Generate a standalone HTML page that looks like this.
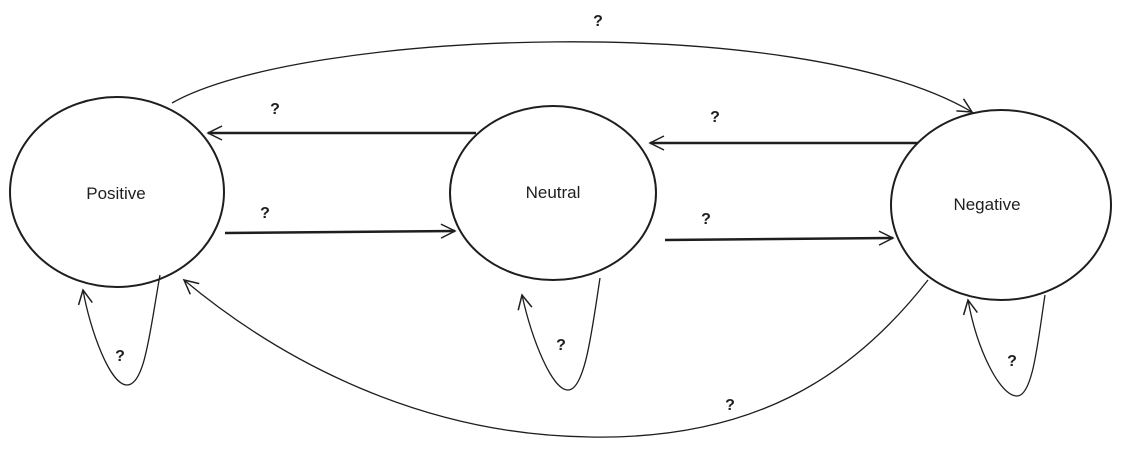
<!DOCTYPE html>
<html><head><meta charset="utf-8"><style>
html,body{margin:0;padding:0;background:#fff;}
svg{display:block;}
text{font-family:"Liberation Sans",sans-serif;fill:#1e1e1e;}
</style></head><body>
<svg width="1122" height="449" viewBox="0 0 1122 449">
<defs>
<marker id="ah" markerWidth="20" markerHeight="20" refX="16" refY="8" orient="auto" markerUnits="userSpaceOnUse">
<path d="M2,1 L16,8 L2,15" fill="none" stroke="#1e1e1e" stroke-width="1.5"/>
</marker>
</defs>
<g fill="none" stroke="#1e1e1e">
<ellipse cx="117" cy="192" rx="107" ry="95" stroke-width="2"/>
<ellipse cx="553" cy="193" rx="103" ry="87" stroke-width="2"/>
<ellipse cx="1001" cy="205" rx="110" ry="95" stroke-width="2"/>
<path d="M476,133 L208,133" stroke-width="2.5" marker-end="url(#ah)"/>
<path d="M225,233 L455,231" stroke-width="2.5" marker-end="url(#ah)"/>
<path d="M918,143 L650,143" stroke-width="2.5" marker-end="url(#ah)"/>
<path d="M665,240 L893,238" stroke-width="2.5" marker-end="url(#ah)"/>
<path d="M172,103 C300,30 800,10 972,112" stroke-width="1.3" marker-end="url(#ah)"/>
<path d="M928,280 C850,380 750,440 590,437 C420,435 280,360 184,280" stroke-width="1.3" marker-end="url(#ah)"/>
<path d="M160,275 C150,330 145,385 127,385 C110,385 90,330 83,290" stroke-width="1.3" marker-end="url(#ah)"/>
<path d="M600,278 C592,330 585,390 568,390 C552,390 532,340 522,295" stroke-width="1.3" marker-end="url(#ah)"/>
<path d="M1045,295 C1038,340 1033,396 1017,396 C1000,396 977,350 968,300" stroke-width="1.3" marker-end="url(#ah)"/>
</g>
<text x="116" y="199" font-size="17" text-anchor="middle">Positive</text>
<text x="553" y="198" font-size="17" text-anchor="middle">Neutral</text>
<text x="987" y="210" font-size="17" text-anchor="middle">Negative</text>
<g font-size="16" font-weight="bold" text-anchor="middle">
<text x="598" y="26">?</text>
<text x="275" y="114">?</text>
<text x="715" y="122">?</text>
<text x="265" y="218">?</text>
<text x="706" y="224">?</text>
<text x="120" y="361">?</text>
<text x="561" y="350">?</text>
<text x="1012" y="366">?</text>
<text x="730" y="410">?</text>
</g>
</svg>
</body></html>
